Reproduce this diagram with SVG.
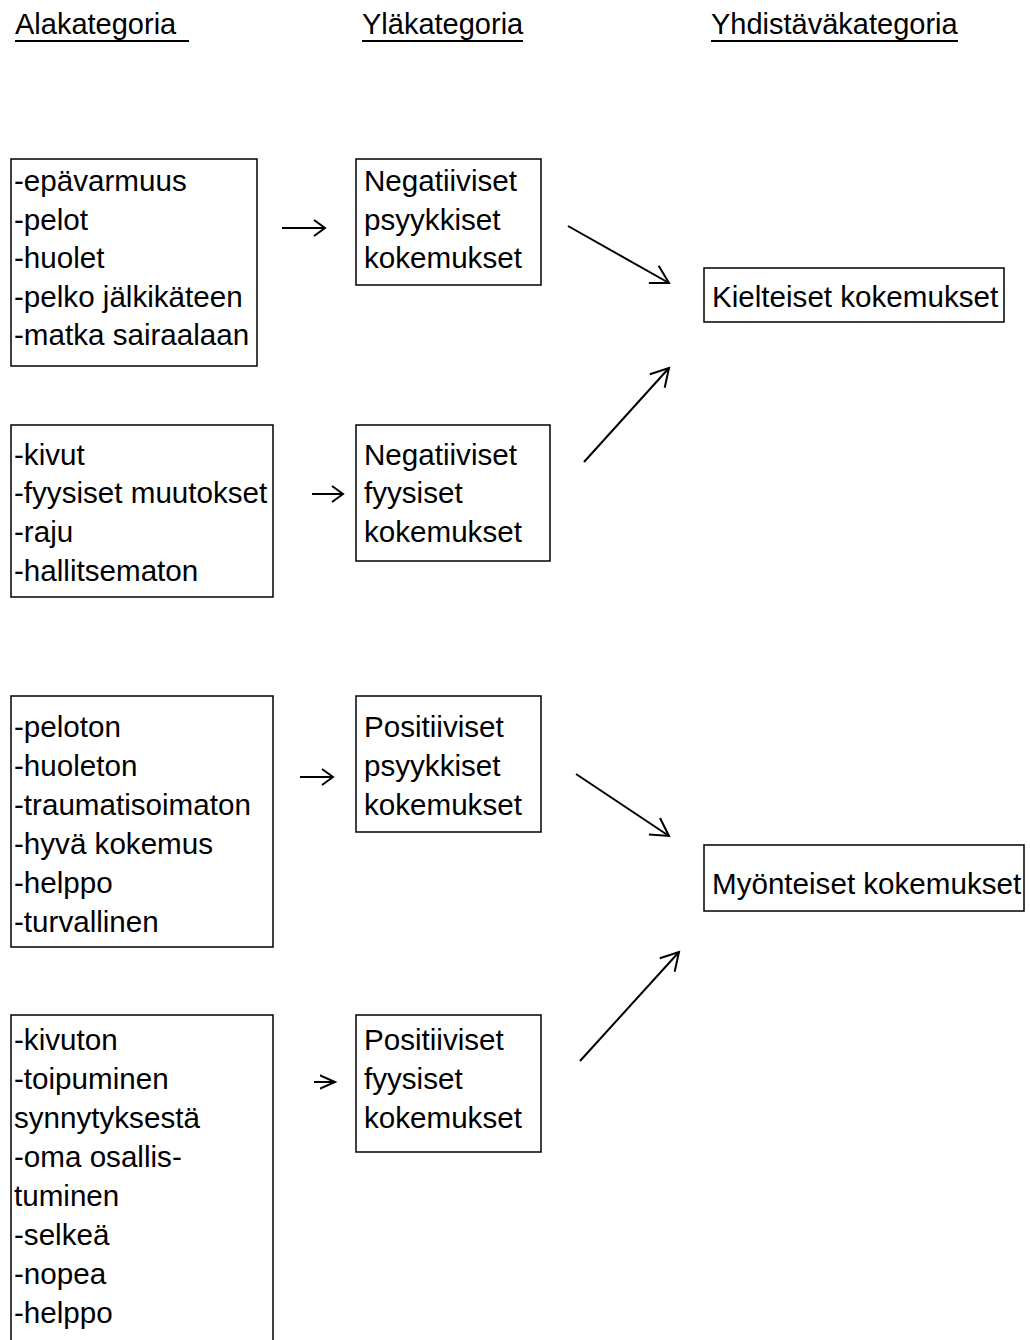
<svg xmlns="http://www.w3.org/2000/svg" width="1030" height="1340" viewBox="0 0 1030 1340">
<style>
text{font-family:"Liberation Sans",Arial,sans-serif;font-size:29.6px;fill:#000}
.h{font-size:29px}
.box{fill:#fff;stroke:#000;stroke-width:1.5}
.ul{stroke:#000;stroke-width:2}
.c{fill:none;stroke:#000;stroke-width:2}
</style>
<defs>
<marker id="hd" markerUnits="userSpaceOnUse" markerWidth="40" markerHeight="40" viewBox="-20 -20 40 40" refX="0" refY="0" orient="auto">
<path d="M-17.5,-10 L0,0 L-17.5,10" fill="none" stroke="#000" stroke-width="2"/>
</marker>
<marker id="hh" markerUnits="userSpaceOnUse" markerWidth="30" markerHeight="30" viewBox="-15 -15 30 30" refX="0" refY="0" orient="auto">
<path d="M-11,-8 L0,0 L-11,8" fill="none" stroke="#000" stroke-width="2"/>
</marker>
<marker id="hs" markerUnits="userSpaceOnUse" markerWidth="30" markerHeight="30" viewBox="-15 -15 30 30" refX="0" refY="0" orient="auto">
<path d="M-16,-7 L0,0 L-16,7" fill="none" stroke="#000" stroke-width="2"/>
</marker>
</defs>
<g id="headers">
<text class="h" x="15" y="34">Alakategoria</text>
<line class="ul" x1="15" y1="41" x2="189" y2="41"/>
<text class="h" x="362" y="34">Yläkategoria</text>
<line class="ul" x1="362" y1="41" x2="523" y2="41"/>
<text class="h" x="711" y="34">Yhdistäväkategoria</text>
<line class="ul" x1="711" y1="41" x2="958" y2="41"/>
</g>
<g id="a1">
<rect class="box" x="11" y="159" width="246" height="207"/>
<text x="14" y="191">-epävarmuus</text>
<text x="14" y="230">-pelot</text>
<text x="14" y="268">-huolet</text>
<text x="14" y="307">-pelko jälkikäteen</text>
<text x="14" y="345">-matka sairaalaan</text>
</g>
<g id="b1">
<rect class="box" x="356" y="159" width="185" height="126"/>
<text x="364" y="191">Negatiiviset</text>
<text x="364" y="230">psyykkiset</text>
<text x="364" y="268">kokemukset</text>
</g>
<g id="c1">
<rect class="box" x="704" y="268" width="300" height="54"/>
<text x="712" y="307">Kielteiset kokemukset</text>
</g>
<g id="a2">
<rect class="box" x="11" y="425" width="262" height="172"/>
<text x="14" y="465">-kivut</text>
<text x="14" y="503">-fyysiset muutokset</text>
<text x="14" y="542">-raju</text>
<text x="14" y="581">-hallitsematon</text>
</g>
<g id="b2">
<rect class="box" x="356" y="425" width="194" height="136"/>
<text x="364" y="465">Negatiiviset</text>
<text x="364" y="503">fyysiset</text>
<text x="364" y="542">kokemukset</text>
</g>
<g id="a3">
<rect class="box" x="11" y="696" width="262" height="251"/>
<text x="14" y="737">-peloton</text>
<text x="14" y="776">-huoleton</text>
<text x="14" y="815">-traumatisoimaton</text>
<text x="14" y="854">-hyvä kokemus</text>
<text x="14" y="893">-helppo</text>
<text x="14" y="932">-turvallinen</text>
</g>
<g id="b3">
<rect class="box" x="356" y="696" width="185" height="136"/>
<text x="364" y="737">Positiiviset</text>
<text x="364" y="776">psyykkiset</text>
<text x="364" y="815">kokemukset</text>
</g>
<g id="c2">
<rect class="box" x="704" y="845" width="320" height="66"/>
<text x="712" y="894">Myönteiset kokemukset</text>
</g>
<g id="a4">
<rect class="box" x="11" y="1015" width="262" height="400"/>
<text x="14" y="1050">-kivuton</text>
<text x="14" y="1089">-toipuminen</text>
<text x="14" y="1128">synnytyksestä</text>
<text x="14" y="1167">-oma osallis-</text>
<text x="14" y="1206">tuminen</text>
<text x="14" y="1245">-selkeä</text>
<text x="14" y="1284">-nopea</text>
<text x="14" y="1323">-helppo</text>
</g>
<g id="b4">
<rect class="box" x="356" y="1015" width="185" height="137"/>
<text x="364" y="1050">Positiiviset</text>
<text x="364" y="1089">fyysiset</text>
<text x="364" y="1128">kokemukset</text>
</g>
<g id="connectors">
<line class="c" x1="282" y1="228" x2="325" y2="228" marker-end="url(#hh)"/>
<line class="c" x1="312" y1="494" x2="343" y2="494" marker-end="url(#hh)"/>
<line class="c" x1="300" y1="777" x2="333" y2="777" marker-end="url(#hh)"/>
<line class="c" x1="314" y1="1082" x2="335" y2="1082" marker-end="url(#hs)"/>
<line class="c" x1="568" y1="226" x2="669" y2="283" marker-end="url(#hd)"/>
<line class="c" x1="584" y1="462" x2="669" y2="368" marker-end="url(#hd)"/>
<line class="c" x1="576" y1="774" x2="669" y2="836" marker-end="url(#hd)"/>
<line class="c" x1="580" y1="1061" x2="679" y2="952" marker-end="url(#hd)"/>
</g>
</svg>
